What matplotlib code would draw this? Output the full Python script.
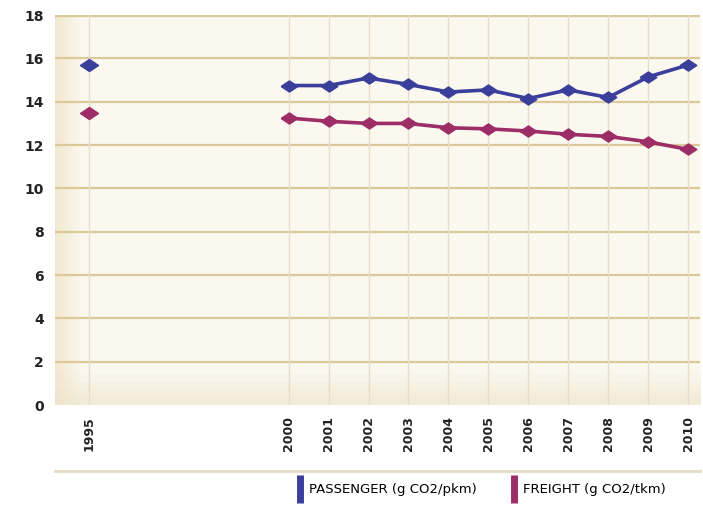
import matplotlib.pyplot as plt
import numpy as np
from matplotlib.lines import Line2D

# data
years = [1995, 2000, 2001, 2002, 2003, 2004, 2005, 2006, 2007, 2008, 2009, 2010]
passenger = [15.7, 14.75, 14.75, 15.1, 14.8, 14.45, 14.55, 14.15, 14.55, 14.2, 15.15, 15.7]
freight = [13.5, 13.25, 13.1, 13.0, 13.0, 12.8, 12.75, 12.65, 12.5, 12.4, 12.15, 11.8]
yticks = [0, 2, 4, 6, 8, 10, 12, 14, 16, 18]

blue = '#3b3f9c'
red = '#9c2d67'
# wide flat diamond like the original
diamond = [(-1.5, 0), (0, 1), (1.5, 0), (0, -1), (-1.5, 0)]

fig = plt.figure(figsize=(7.03, 5.05), dpi=100)
ax = fig.add_axes([0.078, 0.198, 0.918, 0.772])

# beige background with a soft gradient
xs = np.linspace(0, 1, 200)
ys = np.linspace(0, 1, 50)
grad = np.minimum(1, 0.25 + np.clip(xs * 25, 0, 1)[None, :] * 0.75) * \
    np.minimum(1, 0.4 + np.clip(ys[:, None] * 12, 0, 1) * 0.6)
ax.imshow(grad, extent=[0, 1, 0, 1], transform=ax.transAxes, origin='lower',
          cmap=plt.matplotlib.colors.LinearSegmentedColormap.from_list('b', ['#efe5cc', '#fbf8f0']),
          aspect='auto', zorder=0)

ax.set_xlim(1994.15, 2010.3)
ax.set_ylim(0, 18)

for y in yticks[1:]:
    ax.axhline(y, color='#dcc898', lw=2.4 if y == 18 else 1.6, zorder=1)
for x in years:
    ax.axvline(x, color='#e6ddca', lw=1, zorder=1)

ax.plot(years[:1], passenger[:1], marker=diamond, ms=13, color=blue, ls='none', zorder=3)
ax.plot(years[:1], freight[:1], marker=diamond, ms=13, color=red, ls='none', zorder=3)
ax.plot(years[1:], passenger[1:], marker=diamond, ms=12, color=blue, lw=2.6, zorder=3)
ax.plot(years[1:], freight[1:], marker=diamond, ms=12, color=red, lw=2.6, zorder=3)

ax.set_yticks(yticks)
ax.set_yticklabels([str(v) for v in yticks], fontsize=10, fontweight='bold', color='#222222')
ax.set_xticks(years)
ax.set_xticklabels([str(v) for v in years], rotation=90, fontsize=9, fontweight='bold', color='#222222')
ax.tick_params(length=0, pad=8)
for s in ax.spines.values():
    s.set_visible(False)

# line below the tick labels
fig.add_artist(Line2D([0.078, 0.996], [0.068, 0.068], color='#e6dcc3', lw=2))

handles = [Line2D([], [], marker='|', ls='none', color=blue, ms=20, mew=5),
           Line2D([], [], marker='|', ls='none', color=red, ms=20, mew=5)]
fig.legend(handles, ['PASSENGER (g CO2/pkm)', 'FREIGHT (g CO2/tkm)'], loc='center left',
           bbox_to_anchor=(0.402, 0.03), ncol=2, frameon=False, fontsize=9.5,
           handletextpad=0.3, columnspacing=2.4, handlelength=0.8)

fig.savefig('out.png', dpi=100)
